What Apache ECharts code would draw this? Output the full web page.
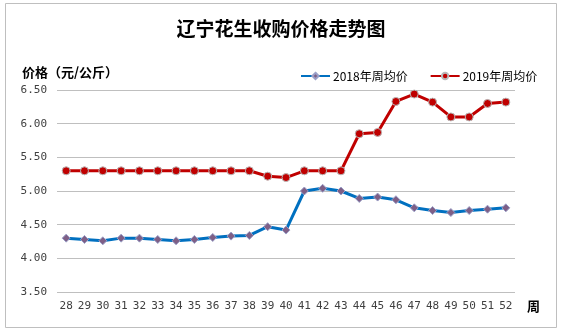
<!DOCTYPE html>
<html><head><meta charset="utf-8">
<script src="https://cdn.jsdelivr.net/npm/echarts@6/dist/echarts.min.js"></script>
<style>html,body{margin:0;padding:0;background:#fff}#c{width:562px;height:332px}</style>
</head><body><div id="c"></div>
<script>
const weeks = ['28','29','30','31','32','33','34','35','36','37','38','39','40','41','42','43','44','45','46','47','48','49','50','51','52'];
const price2018 = [4.30,4.28,4.26,4.30,4.30,4.28,4.26,4.28,4.31,4.33,4.34,4.47,4.42,5.00,5.04,5.00,4.89,4.91,4.87,4.75,4.71,4.68,4.71,4.73,4.75];
const price2019 = [5.30,5.30,5.30,5.30,5.30,5.30,5.30,5.30,5.30,5.30,5.30,5.22,5.20,5.30,5.30,5.30,5.85,5.87,6.33,6.44,6.32,6.10,6.10,6.30,6.32];
const seriesNames = ['2018年周均价','2019年周均价'];
const titleText = '辽宁花生收购价格走势图';
const yName = '价格（元/公斤）';
const xName = '周';

const chart = echarts.init(document.getElementById('c'), null, {renderer:'canvas'});
const labelFont = 'DejaVu Sans Mono, monospace';
chart.setOption({
  animation:false,
  backgroundColor:'#fff',
  graphic:[{type:'rect',shape:{x:5.5,y:3.5,width:551,height:324},style:{fill:null,stroke:'#BFBFBF',lineWidth:1}}],
  title:{text:titleText,left:276,textAlign:'center',top:14,
    textStyle:{fontFamily:'Noto Sans CJK SC',fontWeight:'bold',fontSize:19,color:'#000'}},
  legend:{top:65,left:295,itemWidth:29,itemHeight:8,itemGap:22,
    textStyle:{fontFamily:'Noto Sans CJK SC',fontSize:12,color:'#000',padding:[0,0,0,-2]},
    data:seriesNames},
  grid:{left:57,right:47,top:90,bottom:40,containLabel:false},
  xAxis:{type:'category',data:weeks,boundaryGap:true,
    name:xName,nameLocation:'end',nameGap:12,
    nameTextStyle:{fontFamily:'Noto Sans CJK SC',fontWeight:'bold',fontSize:13,color:'#000',verticalAlign:'top',padding:[8,0,0,0]},
    axisLine:{show:false},axisTick:{show:false},
    axisLabel:{margin:9,interval:0,fontFamily:labelFont,fontSize:11,color:'#404040'}},
  yAxis:{type:'value',min:3.5,max:6.5,interval:0.5,
    name:yName,nameLocation:'end',nameGap:11,
    nameTextStyle:{fontFamily:'Noto Sans CJK SC',fontWeight:'bold',fontSize:13,color:'#000',align:'left',padding:[0,0,0,-35]},
    axisLine:{show:false},axisTick:{show:false},
    splitLine:{lineStyle:{color:'#BFBFBF',width:1}},
    axisLabel:{margin:10,fontFamily:labelFont,fontSize:11,color:'#404040',formatter:v=>v.toFixed(2)}},
  series:[
    {name:seriesNames[0],type:'line',data:price2018,symbol:'diamond',symbolSize:8,
      lineStyle:{color:'#0070C0',width:3},
      itemStyle:{color:'#7E5F86',borderColor:'#9BA0C8',borderWidth:1}},
    {name:seriesNames[1],type:'line',data:price2019,symbol:'circle',symbolSize:8,
      lineStyle:{color:'#C00000',width:3},
      itemStyle:{color:'#C00000',borderColor:'#B8B8B8',borderWidth:1}}
  ]
});
</script></body></html>
